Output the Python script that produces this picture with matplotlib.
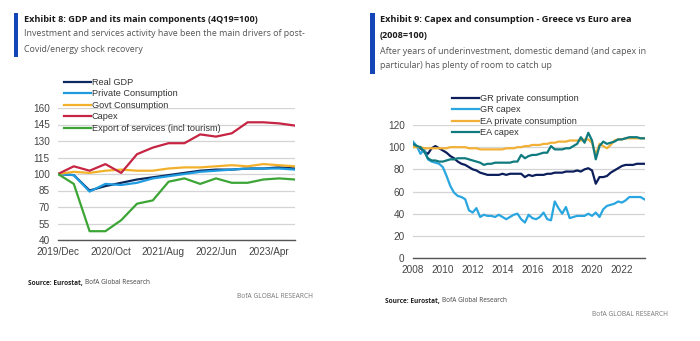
import matplotlib
matplotlib.use("Agg")
import matplotlib.pyplot as plt
import numpy as np

# ---------------- Data: Exhibit 8 (quarterly, 4Q19=100) ----------------
quarters_months = [0, 3, 6, 9, 12, 15, 18, 21, 24, 27, 30, 33, 36, 39, 42, 45]  # months since Dec 2019
left_tick_months = [0, 10, 20, 30, 40]
left_tick_labels = ["2019/Dec", "2020/Oct", "2021/Aug", "2022/Jun", "2023/Apr"]
real_gdp = [100, 99, 85, 89, 92, 95, 97, 99, 101, 103, 104, 104, 105, 105, 106, 105]
private_cons = [100, 99, 84, 91, 90, 92, 96, 98, 100, 102, 103, 104, 105, 105, 105, 104]
govt_cons = [100, 102, 101, 103, 104, 103, 103, 105, 106, 106, 107, 108, 107, 109, 108, 107]
capex = [100, 107, 103, 109, 101, 118, 124, 128, 128, 136, 134, 137, 147, 147, 146, 144]
exports_serv = [100, 91, 48, 48, 58, 73, 76, 93, 96, 91, 96, 92, 92, 95, 96, 95]

# ---------------- Data: Exhibit 9 (quarterly, 2008=100) ----------------
right_start_year = 2008.0
gr_private = [103, 101, 99, 96,
              94, 99, 101, 99,
              97, 95, 92, 90,
              87, 85, 84, 82,
              80, 79, 77, 76,
              75, 75, 75, 75,
              76, 75, 76, 76,
              76, 76, 73, 75,
              74, 75, 75, 75,
              76, 76, 77, 77,
              77, 78, 78, 78,
              79, 78, 80, 81,
              79, 67, 73, 73,
              74, 77, 79, 81,
              83, 84, 84, 84,
              85, 85, 85]
gr_capex = [105, 101, 94, 98,
            89, 87, 86, 85,
            82, 74, 65, 59,
            56, 55, 53, 43,
            41, 45, 37, 39,
            38, 38, 37, 39,
            37, 35, 37, 39,
            40, 35, 32, 39,
            36, 35, 37, 41,
            35, 34, 51, 45,
            40, 46, 36, 37,
            38, 38, 38, 40,
            38, 41, 37, 44,
            47, 48, 49, 51,
            50, 52, 55, 55,
            55, 55, 53]
ea_private = [100, 100, 100, 99,
              99, 99, 99, 99,
              99, 99, 100, 100,
              100, 100, 100, 99,
              99, 99, 98, 98,
              98, 98, 98, 98,
              98, 99, 99, 99,
              100, 100, 101, 101,
              102, 102, 102, 103,
              103, 104, 104, 105,
              105, 105, 106, 106,
              106, 106, 107, 107,
              104, 93, 103, 101,
              99, 102, 106, 107,
              107, 108, 108, 108,
              108, 108, 108]
ea_capex = [103, 101, 100, 96,
            90, 88, 88, 87,
            87, 88, 89, 89,
            90, 90, 90, 89,
            88, 87, 86, 84,
            85, 85, 86, 86,
            86, 86, 86, 87,
            87, 93, 90, 92,
            93, 93, 94, 95,
            95, 101, 98, 98,
            98, 99, 99, 101,
            103, 109, 104, 113,
            106, 89, 101, 105,
            103, 104, 105, 107,
            107, 108, 109, 109,
            109, 108, 108]
right_ticks = [2008, 2010, 2012, 2014, 2016, 2018, 2020, 2022]

# ---------------- Styling ----------------
TXT = "Open Sans"
NUM = "Liberation Sans"
bar_blue = "#1446b8"
grid_c = "#d4d4d4"
tick_c = "#444444"

fig = plt.figure(figsize=(7.0, 3.41), dpi=100)
W, H = 700.0, 341.0

def fx(px):
    return px / W

def fy(py):
    return 1 - py / H

def style_axes(ax):
    for s in ["top", "right", "left"]:
        ax.spines[s].set_visible(False)
    ax.spines["bottom"].set_color("#555555")
    ax.spines["bottom"].set_linewidth(1.0)
    ax.grid(axis="y", color=grid_c, linewidth=0.9)
    ax.set_axisbelow(True)
    ax.tick_params(axis="both", length=0, labelsize=7.2, labelcolor=tick_c)
    ax.tick_params(axis="y", pad=6)
    ax.tick_params(axis="x", pad=5)
    for lab in ax.get_xticklabels() + ax.get_yticklabels():
        lab.set_fontfamily(NUM)

# ---------- Left chart ----------
axL = fig.add_axes([fx(58), fy(240), fx(295 - 58), (240 - 108) / H])
lw = 1.6
axL.plot(quarters_months, real_gdp, color="#0d2a5e", lw=lw, label="Real GDP")
axL.plot(quarters_months, private_cons, color="#1f9be0", lw=lw, label="Private Consumption")
axL.plot(quarters_months, govt_cons, color="#f3b12b", lw=lw, label="Govt Consumption")
axL.plot(quarters_months, capex, color="#c62443", lw=lw, label="Capex")
axL.plot(quarters_months, exports_serv, color="#3ca535", lw=lw, label="Export of services (incl tourism)")
axL.set_xlim(0, 45)
axL.set_ylim(40, 160)
axL.set_yticks(np.arange(40, 161, 15))
axL.set_xticks(left_tick_months)
axL.set_xticklabels(left_tick_labels)
style_axes(axL)
legL = fig.legend(*axL.get_legend_handles_labels(), loc="upper left",
                  bbox_to_anchor=(fx(64), fy(78)), frameon=False,
                  prop={"family": NUM, "size": 6.6}, handlelength=2.9,
                  handletextpad=0.1, labelspacing=0.27, borderaxespad=0, borderpad=0)
for t in legL.get_texts():
    t.set_color("#333333")

# ---------- Right chart ----------
xq = [right_start_year + 0.25 * i for i in range(len(gr_private))]
axR = fig.add_axes([fx(413), fy(258), fx(645 - 413), (258 - 125) / H])
axR.plot(xq, gr_private, color="#0c1f5c", lw=lw, label="GR private consumption")
axR.plot(xq, gr_capex, color="#29a6df", lw=lw, label="GR capex")
axR.plot(xq, ea_private, color="#f2b136", lw=lw, label="EA private consumption")
axR.plot(xq, ea_capex, color="#107b7f", lw=lw, label="EA capex")
axR.set_xlim(2008, xq[-1] + 0.05)
axR.set_ylim(0, 120)
axR.set_yticks(np.arange(0, 121, 20))
axR.set_xticks(right_ticks)
style_axes(axR)
legR = fig.legend(*axR.get_legend_handles_labels(), loc="upper left",
                  bbox_to_anchor=(fx(452), fy(94)), frameon=False,
                  prop={"family": NUM, "size": 6.6}, handlelength=2.9,
                  handletextpad=0.1, labelspacing=0.27, borderaxespad=0, borderpad=0)
for t in legR.get_texts():
    t.set_color("#333333")

# ---------- Titles ----------
fig.add_artist(plt.Rectangle((fx(14), fy(57)), fx(4), (57 - 13) / H,
                             transform=fig.transFigure, color=bar_blue, lw=0))
fig.add_artist(plt.Rectangle((fx(370), fy(74)), fx(4.5), (74 - 13) / H,
                             transform=fig.transFigure, color=bar_blue, lw=0))

fig.text(fx(24), fy(20), "Exhibit 8: GDP and its main components (4Q19=100)",
         family=TXT, weight="bold", size=6.6, color="#1a1a1a", va="center")
fig.text(fx(24), fy(34), "Investment and services activity have been the main drivers of post-",
         family=TXT, size=6.4, color="#555555", va="center")
fig.text(fx(24), fy(49), "Covid/energy shock recovery",
         family=TXT, size=6.4, color="#555555", va="center")

fig.text(fx(380), fy(20), "Exhibit 9: Capex and consumption - Greece vs Euro area",
         family=TXT, weight="bold", size=6.6, color="#1a1a1a", va="center")
fig.text(fx(380), fy(36), "(2008=100)",
         family=TXT, weight="bold", size=6.6, color="#1a1a1a", va="center")
fig.text(fx(380), fy(52), "After years of underinvestment, domestic demand (and capex in",
         family=TXT, size=6.4, color="#555555", va="center")
fig.text(fx(380), fy(66), "particular) has plenty of room to catch up",
         family=TXT, size=6.4, color="#555555", va="center")

# ---------- Sources ----------
def source(x, y):
    t1 = fig.text(fx(x), fy(y), "Source: Eurostat,", family=TXT, weight="bold",
                  size=4.7, color="#222222", va="center")
    fig.canvas.draw()
    bb = t1.get_window_extent()
    fig.text(bb.x1 / W + fx(2), fy(y), "BofA Global Research", family=TXT,
             size=4.7, color="#444444", va="center")

source(28, 283)
source(385, 301)
fig.text(fx(313), fy(297), "BofA GLOBAL RESEARCH", family=TXT, size=4.8,
         color="#777777", va="center", ha="right")
fig.text(fx(668), fy(314), "BofA GLOBAL RESEARCH", family=TXT, size=4.8,
         color="#777777", va="center", ha="right")

fig.savefig("out.png", dpi=100)
